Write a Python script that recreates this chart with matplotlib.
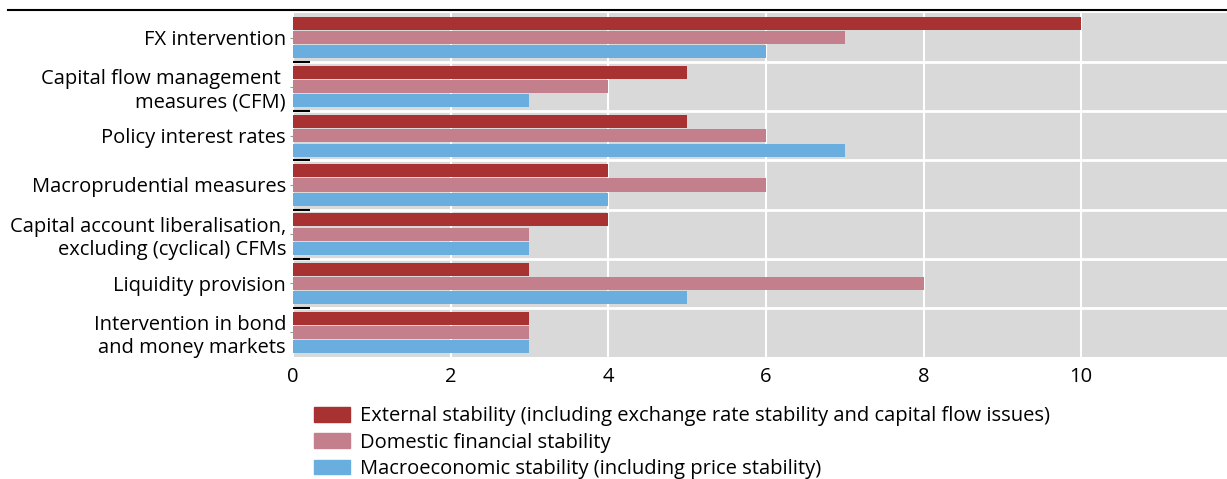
import numpy as np
import matplotlib.pyplot as plt
from matplotlib.lines import Line2D
from matplotlib.patches import Patch

plt.rcParams['font.family'] = ['Open Sans', 'DejaVu Sans']

categories = ['FX intervention',
              'Capital flow management \nmeasures (CFM)',
              'Policy interest rates',
              'Macroprudential measures',
              'Capital account liberalisation,\nexcluding (cyclical) CFMs',
              'Liquidity provision',
              'Intervention in bond\nand money markets']
external = [10, 5, 5, 4, 4, 3, 3]
domestic = [7, 4, 6, 6, 3, 8, 3]
macro = [6, 3, 7, 4, 3, 5, 3]
series_names = ['External stability (including exchange rate stability and capital flow issues)',
                'Domestic financial stability',
                'Macroeconomic stability (including price stability)']
colors = ['#a83232', '#c47f8c', '#6aaee0']

fig = plt.figure(figsize=(12.27, 4.79), dpi=100)
ax = fig.add_axes([0.2388, 0.2547, 0.7612, 0.7182])
ax.set_facecolor('#d9d9d9')

y = np.arange(len(categories))
step = 0.29
h = 0.265
for k, vals in enumerate([external, domestic, macro]):
    ax.barh(y + (k - 1) * step, vals, height=h, color=colors[k], zorder=3)

ax.set_ylim(len(categories) - 0.5, -0.5)
ax.set_xlim(0, 11.85)
ax.set_xticks([0, 2, 4, 6, 8, 10])
ax.set_yticks(y)
ax.set_yticklabels(categories)
ax.set_yticks(np.arange(len(categories) - 1) + 0.5, minor=True)

ax.grid(axis='x', color='white', lw=1.5, zorder=1)
ax.grid(axis='y', which='minor', color='white', lw=2, zorder=1)
ax.set_axisbelow(True)

for s in ax.spines.values():
    s.set_visible(False)

ax.tick_params(axis='x', length=0, labelsize=14.5, pad=7)
ax.tick_params(axis='y', which='major', length=2, color='#999999', labelsize=14.5, pad=3)
ax.tick_params(axis='y', which='minor', direction='in', length=12, width=1.5, color='black')

# black rule across the top
fig.add_artist(Line2D([0.0065, 1.0], [0.979, 0.979], color='black', lw=1.5))

handles = [Patch(color=c) for c in colors]
fig.legend(handles, series_names, loc='upper left', bbox_to_anchor=(0.256, 0.152),
           frameon=False, fontsize=14.5, handlelength=1.8, handleheight=0.75,
           labelspacing=0.32, borderpad=0, borderaxespad=0, handletextpad=0.5)

fig.savefig('out.png', dpi=100)
